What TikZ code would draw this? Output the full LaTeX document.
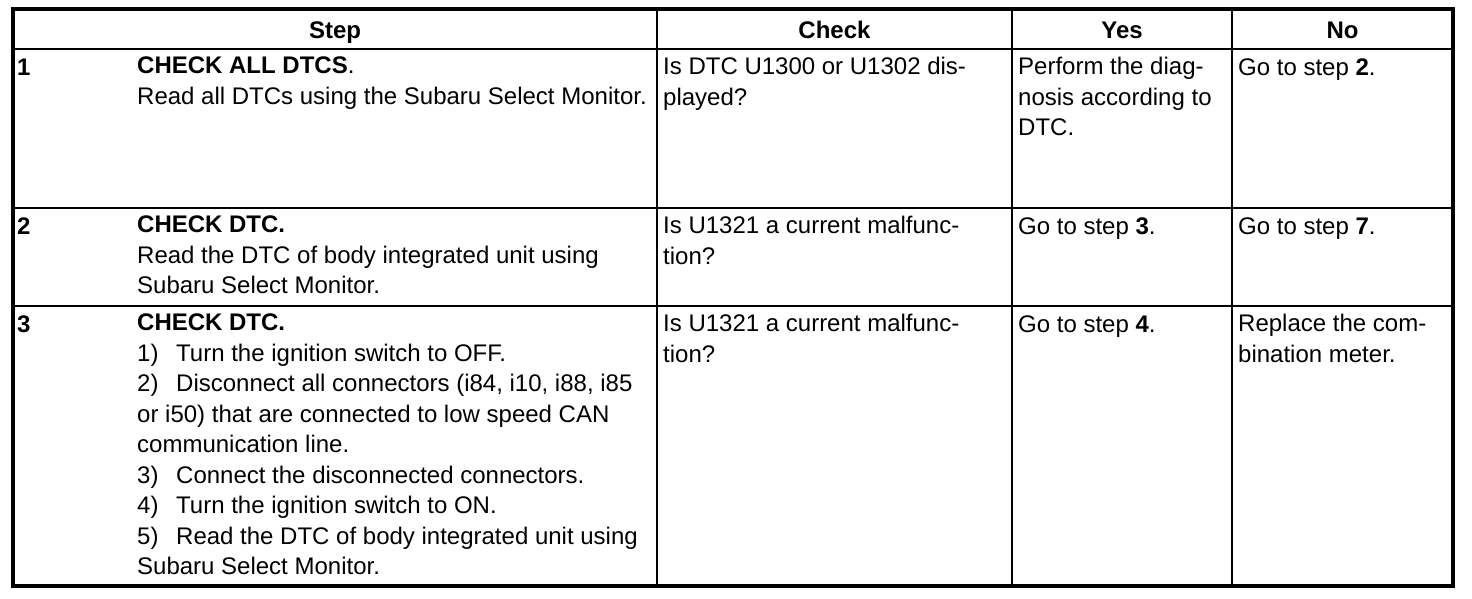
\documentclass[tikz,border=0pt]{standalone}
\usepackage{fontspec}
\setmainfont{Liberation Sans}
\usetikzlibrary{positioning}

\newcommand{\stepitem}[1]{\makebox[39pt][l]{#1}}
\newcommand{\firststrut}{\rule{0pt}{18pt}}

\begin{document}
\begin{tikzpicture}[
    x=1pt, y=-1pt,
    grid/.style={line width=2pt, black},
    frame/.style={line width=4pt, black},
    cell/.style={anchor=north west, yshift=18pt, inner sep=0pt, align=left,
        font=\fontsize{24}{30.5}\selectfont, execute at begin node=\firststrut},
    numcell/.style={cell, font=\fontsize{24}{30.5}\selectfont\bfseries},
    head/.style={anchor=base, inner sep=0pt, font=\fontsize{24}{30.5}\selectfont\bfseries}
]
    \useasboundingbox (0,0) rectangle (1472,598);

    % Grid lines
    \draw[grid] (13,49) -- (1453,49);
    \draw[grid] (13,208) -- (1453,208);
    \draw[grid] (13,306) -- (1453,306);
    \draw[grid] (657,8.5) -- (657,586);
    \draw[grid] (1012,8.5) -- (1012,586);
    \draw[grid] (1232,8.5) -- (1232,586);
    \draw[frame] (13,8.5) rectangle (1453,586);

    % Header row
    \node[head] (hstep) at (335,38.5) {Step};
    \node[head] (hcheck) at (834.5,38.5) {Check};
    \node[head] (hyes) at (1122,38.5) {Yes};
    \node[head] (hno) at (1342.5,38.5) {No};

    % Step 1
    \node[numcell] (num1) at (17,75) {1};
    \node[cell] (step1) at (137,75) {\textbf{CHECK ALL DTCS}.\\Read all DTCs using the Subaru Select Monitor.};
    \node[cell] (check1) at (663,75) {Is DTC U1300 or U1302 dis-\\played?};
    \node[cell] (yes1) at (1018,75) {Perform the diag-\\nosis according to\\DTC.};
    \node[cell] (no1) at (1238,75) {Go to step \textbf{2}.};

    % Step 2
    \node[numcell] (num2) at (17,234) {2};
    \node[cell] (step2) at (137,234) {\textbf{CHECK DTC.}\\Read the DTC of body integrated unit using\\Subaru Select Monitor.};
    \node[cell] (check2) at (663,234) {Is U1321 a current malfunc-\\tion?};
    \node[cell] (yes2) at (1018,234) {Go to step \textbf{3}.};
    \node[cell] (no2) at (1238,234) {Go to step \textbf{7}.};

    % Step 3
    \node[numcell] (num3) at (17,332) {3};
    \node[cell] (step3) at (137,332) {\textbf{CHECK DTC.}\\
        \stepitem{1)}Turn the ignition switch to OFF.\\
        \stepitem{2)}Disconnect all connectors (i84, i10, i88, i85\\
        or i50) that are connected to low speed CAN\\
        communication line.\\
        \stepitem{3)}Connect the disconnected connectors.\\
        \stepitem{4)}Turn the ignition switch to ON.\\
        \stepitem{5)}Read the DTC of body integrated unit using\\
        Subaru Select Monitor.};
    \node[cell] (check3) at (663,332) {Is U1321 a current malfunc-\\tion?};
    \node[cell] (yes3) at (1018,332) {Go to step \textbf{4}.};
    \node[cell] (no3) at (1238,332) {Replace the com-\\bination meter.};
\end{tikzpicture}
\end{document}
